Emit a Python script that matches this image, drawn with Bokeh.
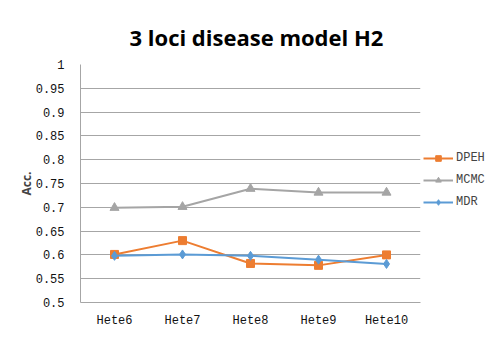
from bokeh.plotting import figure
from bokeh.models import Legend, LegendItem, FactorRange, Range1d
from bokeh.embed import file_html
from bokeh.resources import INLINE

categories = ["Hete6", "Hete7", "Hete8", "Hete9", "Hete10"]
dpeh = [0.601, 0.630, 0.582, 0.578, 0.600]
mcmc = [0.699, 0.701, 0.739, 0.731, 0.731]
mdr = [0.598, 0.601, 0.598, 0.590, 0.581]
y_ticks = [0.5, 0.55, 0.6, 0.65, 0.7, 0.75, 0.8, 0.85, 0.9, 0.95, 1.0]
y_tick_labels = ["0.5", "0.55", "0.6", "0.65", "0.7", "0.75", "0.8", "0.85", "0.9", "0.95", "1"]

p = figure(frame_width=340, frame_height=238, x_range=FactorRange(*categories, range_padding=0),
           y_range=Range1d(0.5, 1.0), output_backend="svg", toolbar_location=None,
           min_border_left=80, min_border_right=0, min_border_top=64, min_border_bottom=26)
p.title.text = "3 loci disease model H2"
p.title.text_font = "Open Sans"
p.title.text_font_size = "22px"
p.title.text_font_style = "bold"
p.title.text_color = "black"
p.title.align = "left"
p.title.offset = 49
p.title.standoff = 26
p.outline_line_color = None
p.background_fill_color = "white"
p.border_fill_color = "white"

p.yaxis.ticker = y_ticks
p.yaxis.major_label_overrides = {t: l for t, l in zip(y_ticks, y_tick_labels)}
for ax in (p.xaxis[0], p.yaxis[0]):
    ax.major_tick_line_color = None
    ax.minor_tick_line_color = None
    ax.axis_line_color = "#a6a6a6"
    ax.major_label_text_font = "Liberation Mono"
    ax.major_label_text_font_size = "12px"
    ax.major_label_text_color = "#111111"
p.yaxis.major_label_standoff = 10
p.xaxis.major_label_standoff = 5
p.yaxis.axis_label = "Acc."
p.yaxis.axis_label_text_font = "Open Sans"
p.yaxis.axis_label_text_font_style = "bold"
p.yaxis.axis_label_text_font_size = "12px"
p.yaxis.axis_label_standoff = -2
p.xgrid.grid_line_color = None
p.ygrid.grid_line_color = "#a6a6a6"
p.ygrid.grid_line_width = 1

l1 = p.line(categories, dpeh, line_color="#ed7d31", line_width=2)
s1 = p.scatter(categories, dpeh, marker="square", size=8, color="#ed7d31")
l2 = p.line(categories, mcmc, line_color="#a5a5a5", line_width=2)
s2 = p.scatter(categories, mcmc, marker="triangle", size=9, color="#a5a5a5")
l3 = p.line(categories, mdr, line_color="#5b9bd5", line_width=2)
s3 = p.scatter(categories, mdr, marker="diamond", size=9, color="#5b9bd5")

legend = Legend(items=[LegendItem(label="DPEH", renderers=[l1, s1]),
                       LegendItem(label="MCMC", renderers=[l2, s2]),
                       LegendItem(label="MDR", renderers=[l3, s3])],
                location=(3, 93), border_line_color=None, background_fill_alpha=0,
                label_text_font="Liberation Mono", label_text_font_size="12px",
                glyph_width=30, glyph_height=14, spacing=8, padding=0, margin=0,
                label_standoff=3, label_height=14)
p.add_layout(legend, "right")

open("out.html", "w").write(file_html(p, INLINE))
